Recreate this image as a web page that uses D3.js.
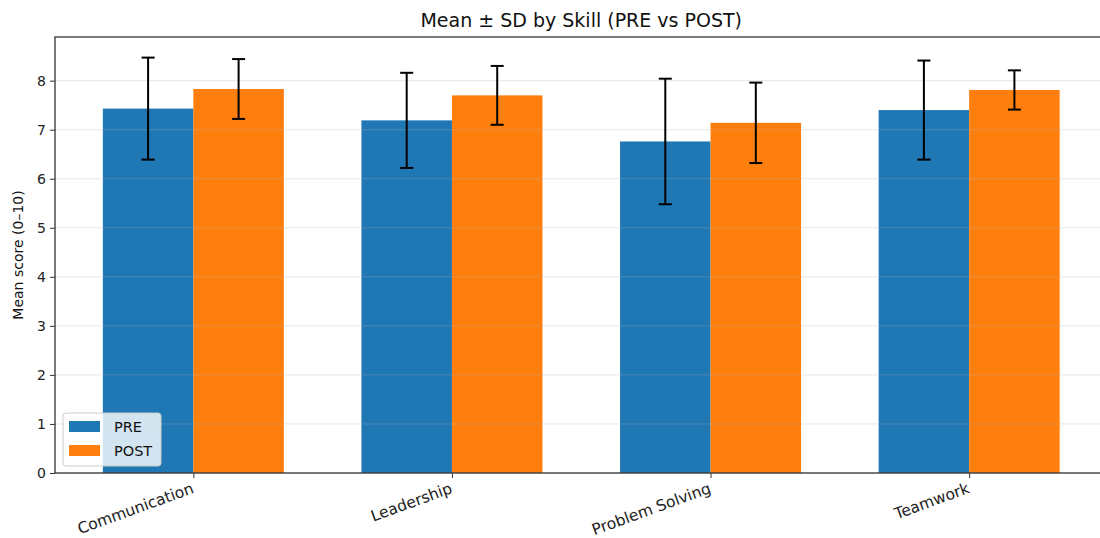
<!DOCTYPE html>
<html><head><meta charset="utf-8">
<script src="https://cdn.jsdelivr.net/npm/d3@7"></script>
<style>
body{margin:0;background:#fff;}
svg{display:block;font-family:"DejaVu Sans",sans-serif;}
svg text{font-family:"DejaVu Sans",sans-serif;}
</style></head>
<body><svg id="c" width="1100" height="538"></svg>
<script>
const categories = ["Communication","Leadership","Problem Solving","Teamwork"];
const preMean = [7.43, 7.19, 6.76, 7.40];
const preSD   = [1.04, 0.97, 1.28, 1.01];
const postMean = [7.83, 7.70, 7.14, 7.81];
const postSD   = [0.61, 0.60, 0.82, 0.40];
const yTicks = [0,1,2,3,4,5,6,7,8];
const seriesNames = ["PRE","POST"];
const colors = ["#1f77b4","#ff7f0e"];

const svg = d3.select("#c");
const L = 55, R = 1107.5, T = 37, B = 473;
const barW = 0.35;
const x = d3.scaleLinear().domain([-0.535, 3.535]).range([L, R]);
const y = d3.scaleLinear().domain([0, 8.89]).range([B, T]);

const series = [
  {name: seriesNames[0], mean: preMean, sd: preSD, off: -barW/2, color: colors[0]},
  {name: seriesNames[1], mean: postMean, sd: postSD, off: barW/2, color: colors[1]}
];

const g = svg.append("g");
series.forEach(s => {
  g.selectAll(null).data(categories).enter().append("rect")
    .attr("x", (d,i) => x(i + s.off - barW/2))
    .attr("width", x(barW) - x(0))
    .attr("y", (d,i) => y(s.mean[i]))
    .attr("height", (d,i) => y(0) - y(s.mean[i]))
    .attr("fill", s.color);
});
g.selectAll(null).data(yTicks).enter().append("line")
  .attr("x1", L).attr("x2", R)
  .attr("y1", d => y(d)).attr("y2", d => y(d))
  .attr("stroke", "#b0b0b0").attr("stroke-opacity", 0.3).attr("stroke-width", 1);
series.forEach(s => {
  categories.forEach((c,i) => {
    const cx = x(i + s.off);
    const top = y(s.mean[i] + s.sd[i]), bot = y(s.mean[i] - s.sd[i]);
    g.append("line").attr("x1",cx).attr("x2",cx).attr("y1",top).attr("y2",bot)
      .attr("stroke","#000").attr("stroke-width",2);
    [top,bot].forEach(yy => g.append("line").attr("x1",cx-6.5).attr("x2",cx+6.5)
      .attr("y1",yy).attr("y2",yy).attr("stroke","#000").attr("stroke-width",2));
  });
});

const yAxis = d3.axisLeft(y).tickValues(yTicks).tickSize(5).tickPadding(4).tickFormat(d3.format("d"));
const ya = svg.append("g").attr("transform", `translate(${L},0)`).call(yAxis)
  .attr("font-family","DejaVu Sans");
ya.select(".domain").remove();
ya.selectAll("text").attr("font-size", 14).attr("fill","#222");
ya.selectAll("line").attr("stroke","#333");

const xAxis = d3.axisBottom(x).tickValues(d3.range(categories.length)).tickSize(5).tickFormat(i => categories[i]);
const xa = svg.append("g").attr("transform", `translate(0,${B})`).call(xAxis)
  .attr("font-family","DejaVu Sans");
xa.select(".domain").remove();
xa.selectAll("line").attr("stroke","#333");
xa.selectAll("text").attr("font-size", 15.5).attr("fill","#222")
  .attr("text-anchor","end").attr("dy",null).attr("y",0)
  .attr("transform","translate(-3,9) rotate(-20)").attr("dominant-baseline","hanging");

svg.append("rect").attr("x",L).attr("y",T).attr("width",R-L).attr("height",B-T)
  .attr("fill","none").attr("stroke","#333").attr("stroke-width",1.3);

svg.append("text").attr("x",(L+R)/2).attr("y",27).attr("text-anchor","middle")
  .attr("font-size",19).attr("fill","#111").text("Mean ± SD by Skill (PRE vs POST)");
svg.append("text").attr("transform",`translate(23,${(T+B)/2}) rotate(-90)`)
  .attr("text-anchor","middle").attr("font-size",14).attr("fill","#111").text("Mean score (0–10)");

const lg = svg.append("g").attr("transform","translate(63,413)");
lg.append("rect").attr("width",98).attr("height",53).attr("rx",3)
  .attr("fill","#fff").attr("fill-opacity",0.8).attr("stroke","#ccc");
series.forEach((s,k) => {
  lg.append("rect").attr("x",6).attr("y",8+k*24).attr("width",31).attr("height",11).attr("fill",s.color);
  lg.append("text").attr("x",51).attr("y",18.5+k*24).attr("font-size",14.5).attr("fill","#111").text(s.name);
});
</script></body></html>
